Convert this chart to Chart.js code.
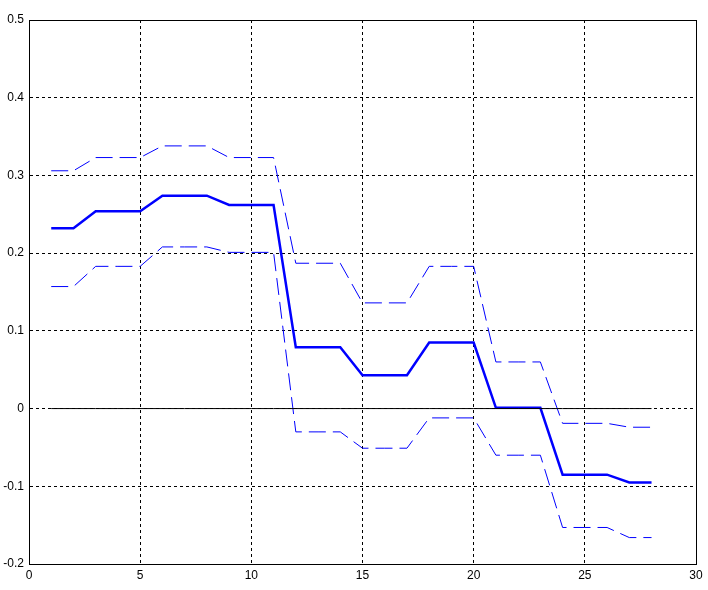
<!DOCTYPE html>
<html>
<head>
<meta charset="utf-8">
<title>Chart</title>
<script src="https://cdn.jsdelivr.net/npm/chart.js@4/dist/chart.umd.min.js"></script>
<style>
  html, body { margin: 0; padding: 0; background: #fff; }
  #chart { display: block; }
</style>
</head>
<body>
<canvas id="chart" width="708" height="590"></canvas>
<script>
// data
const steps = [1, 2, 3, 4, 5, 6, 7, 8, 9, 10, 11, 12, 13, 14, 15, 16, 17, 18, 19, 20, 21, 22, 23, 24, 25, 26, 27, 28];

const response = [0.232, 0.232, 0.254, 0.254, 0.254, 0.274, 0.274, 0.274, 0.262, 0.262, 0.262,
    0.079, 0.079, 0.079, 0.043, 0.043, 0.043, 0.085, 0.085, 0.085, 0.001, 0.001, 0.001,
    -0.085, -0.085, -0.085, -0.095, -0.095];

const upperBand = [0.306, 0.306, 0.323, 0.323, 0.323, 0.338, 0.338, 0.338, 0.323, 0.323, 0.323,
    0.187, 0.187, 0.187, 0.136, 0.136, 0.136, 0.183, 0.183, 0.183, 0.060, 0.060, 0.060,
    -0.019, -0.019, -0.019, -0.024, -0.024];

const lowerBand = [0.157, 0.157, 0.183, 0.183, 0.183, 0.208, 0.208, 0.208, 0.201, 0.201, 0.201,
    -0.030, -0.030, -0.030, -0.051, -0.051, -0.051, -0.012, -0.012, -0.012, -0.060, -0.060, -0.060,
    -0.153, -0.153, -0.153, -0.166, -0.166];

const zeroLine = [0, 0, 0, 0, 0, 0, 0, 0, 0, 0, 0, 0, 0, 0, 0, 0, 0, 0, 0, 0, 0, 0, 0, 0, 0, 0, 0, 0];

const xTicks = [0, 5, 10, 15, 20, 25, 30];
const yTicks = [-0.2, -0.1, 0, 0.1, 0.2, 0.3, 0.4, 0.5];

function toPoints(ys) {
    return steps.map((x, i) => ({ x: x, y: ys[i] }));
}

// solid box round the plot area, like the matlab axes
const boxPlugin = {
    id: "box",
    afterDatasetsDraw(chart) {
        const a = chart.chartArea;
        const ctx = chart.ctx;
        ctx.save();
        ctx.strokeStyle = "#000";
        ctx.lineWidth = 1;
        ctx.setLineDash([]);
        ctx.strokeRect(Math.round(a.left) + 0.5, Math.round(a.top) + 0.5,
            Math.round(a.right - a.left), Math.round(a.bottom - a.top));
        ctx.restore();
    }
};

const font = { family: "'Liberation Sans', Arial, sans-serif", size: 12 };

new Chart(document.getElementById("chart"), {
    type: "line",
    data: {
        datasets: [
            {
                data: toPoints(zeroLine),
                borderColor: "#000",
                borderWidth: 1,
                pointRadius: 0
            },
            {
                data: toPoints(upperBand),
                borderColor: "#0000ff",
                borderWidth: 1,
                borderDash: [17, 7],
                pointRadius: 0
            },
            {
                data: toPoints(lowerBand),
                borderColor: "#0000ff",
                borderWidth: 1,
                borderDash: [17, 7],
                pointRadius: 0
            },
            {
                data: toPoints(response),
                borderColor: "#0000ff",
                borderWidth: 2.5,
                pointRadius: 0
            }
        ]
    },
    options: {
        responsive: false,
        animation: false,
        layout: { padding: { top: 20, right: 12, left: 0, bottom: 0 } },
        plugins: {
            legend: { display: false },
            tooltip: { enabled: false },
            title: { display: false }
        },
        scales: {
            x: {
                type: "linear",
                min: 0,
                max: 30,
                afterBuildTicks: scale => { scale.ticks = xTicks.map(v => ({ value: v })); },
                afterFit: scale => { scale.height = 26; },
                ticks: {
                    color: "#000",
                    font: font,
                    padding: 4,
                    maxRotation: 0,
                    callback: v => String(v)
                },
                grid: {
                    color: ctx => (ctx.tick && (ctx.tick.value === 0 || ctx.tick.value === 30)) ? "rgba(0,0,0,0)" : "#000",
                    lineWidth: 1,
                    drawTicks: false
                },
                border: { display: true, color: "#000", dash: [3, 3] }
            },
            y: {
                type: "linear",
                min: -0.2,
                max: 0.5,
                afterBuildTicks: scale => { scale.ticks = yTicks.map(v => ({ value: v })); },
                afterFit: scale => { scale.width = 29; },
                ticks: {
                    color: "#000",
                    font: font,
                    padding: 5,
                    callback: v => String(Number(v.toFixed(1)))
                },
                grid: {
                    color: ctx => (ctx.tick && (Math.abs(ctx.tick.value - 0.5) < 1e-9 || Math.abs(ctx.tick.value + 0.2) < 1e-9)) ? "rgba(0,0,0,0)" : "#000",
                    lineWidth: 1,
                    drawTicks: false
                },
                border: { display: true, color: "#000", dash: [3, 3] }
            }
        }
    },
    plugins: [boxPlugin]
});
</script>
</body>
</html>
